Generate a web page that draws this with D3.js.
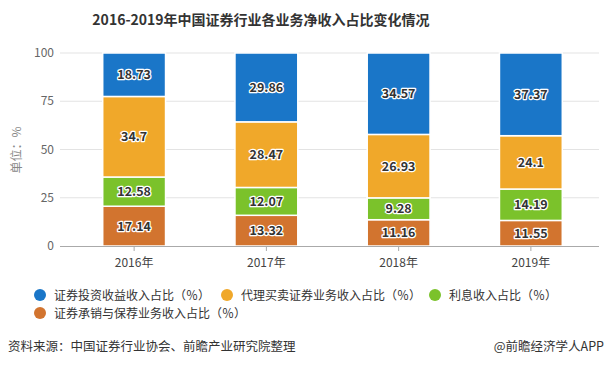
<!DOCTYPE html>
<html>
<head>
<meta charset="utf-8">
<script src="https://cdn.jsdelivr.net/npm/d3@7"></script>
<style>
  body { margin: 0; background: #fff; }
  text { font-family: "Microsoft YaHei", "Noto Sans CJK SC", sans-serif; }
</style>
</head>
<body>
<svg id="chart" width="609" height="367"></svg>
<script>
const years = ['2016年', '2017年', '2018年', '2019年'];
const seriesNames = [
  '证券承销与保荐业务收入占比（％）',
  '利息收入占比（％）',
  '代理买卖证券业务收入占比（％）',
  '证券投资收益收入占比（％）',
];
// bottom -> top
const underwriting = [17.14, 13.32, 11.16, 11.55];
const interest = [12.58, 12.07, 9.28, 14.19];
const brokerage = [34.7, 28.47, 26.93, 24.1];
const investment = [18.73, 29.86, 34.57, 37.37];
const yTicks = [0, 25, 50, 75, 100];
const colors = ['#d2742f', '#7bc22b', '#f0a82a', '#1a76c8'];

const svg = d3.select('#chart');

const rows = years.map((y, i) => ({
  year: y,
  s0: underwriting[i], s1: interest[i], s2: brokerage[i], s3: investment[i],
}));
const keys = ['s0', 's1', 's2', 's3'];
const stacked = d3.stack().keys(keys).offset(d3.stackOffsetExpand)(rows);

const x = d3.scaleBand().domain(years).range([68, 597]).paddingInner(0.525).paddingOuter(0.2625);
const y = d3.scaleLinear().domain([0, 100]).range([246, 53]);

// title
svg.append('text')
  .attr('x', 261).attr('y', 25)
  .attr('text-anchor', 'middle')
  .style('font-size', '14px').style('font-weight', 'bold').style('fill', '#333')
  .text('2016-2019年中国证券行业各业务净收入占比变化情况');

// grid
svg.append('g').selectAll('line').data(yTicks.filter(d => d > 0)).join('line')
  .attr('x1', 60).attr('x2', 599)
  .attr('y1', d => y(d)).attr('y2', d => y(d))
  .attr('stroke', '#e3e3e3').attr('stroke-width', 1);

svg.append('g').selectAll('text').data(yTicks).join('text')
  .attr('x', 54).attr('y', d => y(d) + 4)
  .attr('text-anchor', 'end')
  .style('font-size', '12px').style('fill', '#666')
  .text(d => d);

svg.append('text')
  .attr('transform', 'translate(21,150) rotate(-90)')
  .attr('text-anchor', 'middle')
  .style('font-size', '12px').style('fill', '#888')
  .text('单位：%');

// bars
const layers = svg.append('g').selectAll('g').data(stacked).join('g')
  .attr('fill', (d, i) => colors[i]);
layers.selectAll('rect').data(d => d).join('rect')
  .attr('x', d => x(d.data.year))
  .attr('width', x.bandwidth())
  .attr('y', d => y(d[1] * 100))
  .attr('height', d => y(d[0] * 100) - y(d[1] * 100))
  .attr('stroke', '#fff').attr('stroke-width', 1.5);

// value labels
const labels = svg.append('g');
stacked.forEach((layer, li) => {
  const raw = [underwriting, interest, brokerage, investment][li];
  layer.forEach((d, i) => {
    const cx = x(d.data.year) + x.bandwidth() / 2;
    const cy = y((d[0] + d[1]) / 2 * 100) + 4.5;
    labels.append('text')
      .attr('x', cx).attr('y', cy)
      .attr('text-anchor', 'middle')
      .style('font-size', '12.5px').style('font-weight', 'bold')
      .style('fill', '#333').style('stroke', '#fff').style('stroke-width', 2.5)
      .style('paint-order', 'stroke').style('stroke-linejoin', 'round')
      .text(raw[i]);
  });
});

// x axis
svg.append('line')
  .attr('x1', 60).attr('x2', 599).attr('y1', 246.5).attr('y2', 246.5)
  .attr('stroke', '#aaa');
svg.append('g').selectAll('line').data(years).join('line')
  .attr('x1', d => x(d) + x.bandwidth() / 2).attr('x2', d => x(d) + x.bandwidth() / 2)
  .attr('y1', 246.5).attr('y2', 251)
  .attr('stroke', '#aaa');
svg.append('g').selectAll('text').data(years).join('text')
  .attr('x', d => x(d) + x.bandwidth() / 2).attr('y', 267)
  .attr('text-anchor', 'middle')
  .style('font-size', '12px').style('fill', '#444')
  .text(d => d);

// legend
const legendItems = [
  { name: seriesNames[3], color: colors[3], x: 40, y: 295 },
  { name: seriesNames[2], color: colors[2], x: 227, y: 295 },
  { name: seriesNames[1], color: colors[1], x: 435, y: 295 },
  { name: seriesNames[0], color: colors[0], x: 40, y: 313 },
];
const lg = svg.append('g').selectAll('g').data(legendItems).join('g')
  .attr('transform', d => `translate(${d.x},${d.y})`);
lg.append('circle').attr('r', 6).attr('fill', d => d.color);
lg.append('text').attr('x', 14).attr('y', 4.5)
  .style('font-size', '12px').style('fill', '#333')
  .text(d => d.name);

// footer
svg.append('text').attr('x', 8).attr('y', 351)
  .style('font-size', '12.5px').style('fill', '#333')
  .text('资料来源：中国证券行业协会、前瞻产业研究院整理');
svg.append('text').attr('x', 604).attr('y', 351)
  .attr('text-anchor', 'end')
  .style('font-size', '12.5px').style('fill', '#333')
  .text('@前瞻经济学人APP');
</script>
</body>
</html>
